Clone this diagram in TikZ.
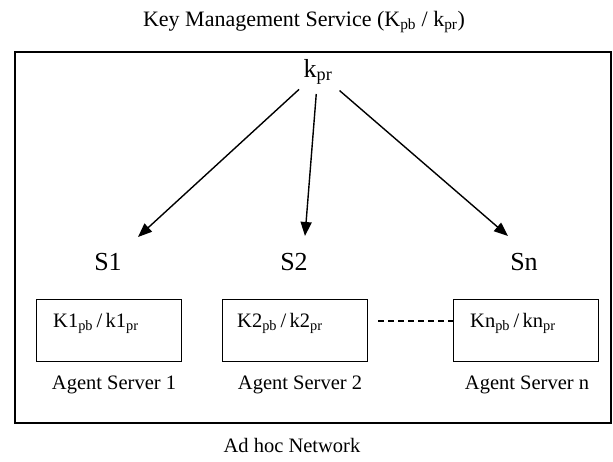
\documentclass[tikz,border=0pt]{standalone}
\usepackage{fontspec}
\setmainfont{Liberation Serif}
\usetikzlibrary{arrows.meta}
\tikzset{
  lbl/.style={inner sep=1pt},
  big/.style={font=\fontsize{26}{30}\selectfont},
  mid/.style={font=\fontsize{20.5}{24}\selectfont},
  ttl/.style={font=\fontsize{22}{26}\selectfont},
  keybox/.style={draw, line width=1.4pt, minimum width=145pt, minimum height=62pt, anchor=north west},
  arr/.style={line width=1.4pt, -{Triangle[length=14pt,width=11pt]}},
}
\begin{document}
\begin{tikzpicture}[x=1pt,y=-1pt]
\useasboundingbox (0,0) rectangle (613,462);
\node[lbl,ttl] (title) at (304,22) {Key Management Service (K\textsubscript{pb} / k\textsubscript{pr})};
\draw[line width=2pt] (15,52) rectangle (611,423);
\node[lbl,big] (kpr) at (318,72) {k\textsubscript{pr}};
\node[lbl,big] (S1) at (108,262) {S1};
\node[lbl,big] (S2) at (294,262) {S2};
\node[lbl,big] (Sn) at (524,262) {Sn};
\coordinate (t1) at (138,237);
\coordinate (t2) at (305,236);
\coordinate (tn) at (508,236);
\draw[arr, shorten <=5pt] (kpr) -- (t1);
\draw[arr, shorten <=8pt] (kpr) -- (t2);
\draw[arr, shorten <=8pt] (kpr) -- (tn);
\node[keybox] (b1) at (36,299) {};
\node[keybox] (b2) at (222,299) {};
\node[keybox] (bn) at (453,299) {};
\node[lbl,mid,anchor=west] (k1) at (52,323) {K1\textsubscript{pb}\,/\,k1\textsubscript{pr}};
\node[lbl,mid,anchor=west] (k2) at (236,323) {K2\textsubscript{pb}\,/\,k2\textsubscript{pr}};
\node[lbl,mid,anchor=west] (kn) at (469,323) {Kn\textsubscript{pb}\,/\,kn\textsubscript{pr}};
\draw[line width=1.2pt, dash pattern=on 6pt off 4pt] (b2.east |- 0,321) ++(10,0) coordinate (d1) -- (bn.west |- 0,321) ++(-10,0) coordinate (d2);
\node[lbl,mid] (a1) at (114,385) {Agent Server 1};
\node[lbl,mid] (a2) at (300,385) {Agent Server 2};
\node[lbl,mid] (an) at (527,385) {Agent Server n};
\node[lbl,mid] (net) at (292,445) {Ad hoc Network};
\end{tikzpicture}
\end{document}
